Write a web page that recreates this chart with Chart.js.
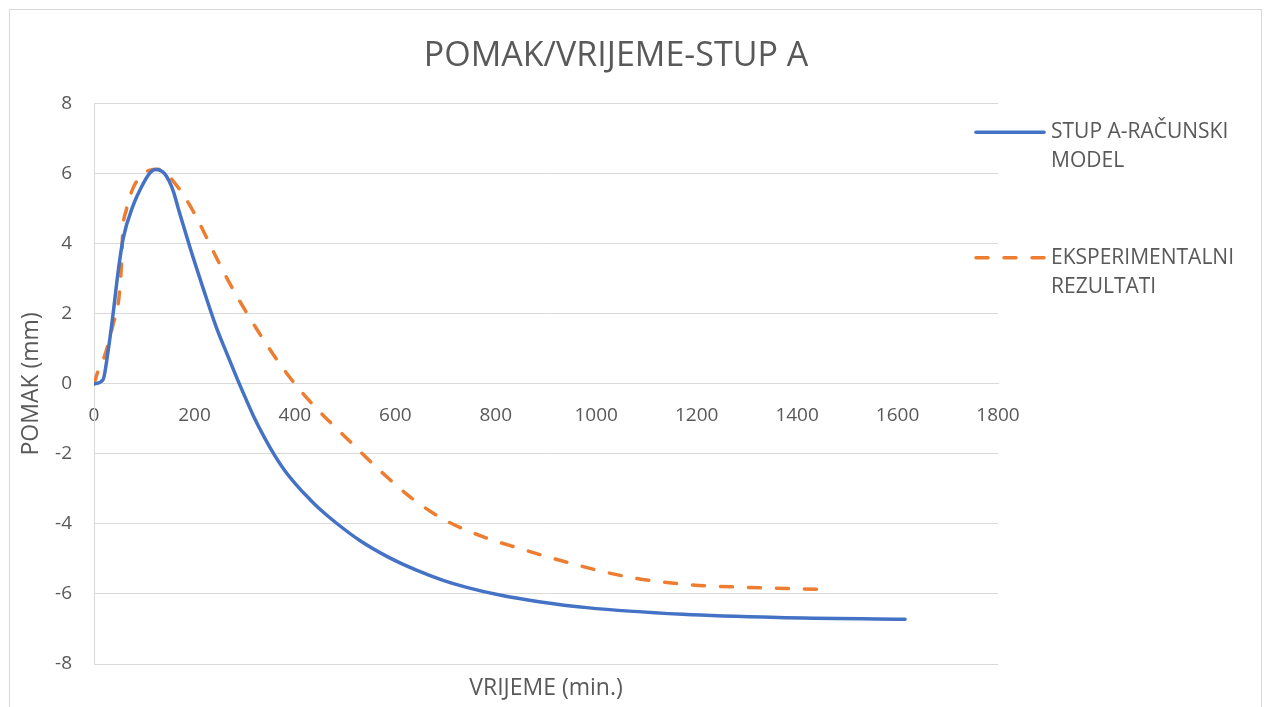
<!DOCTYPE html>
<html>
<head>
<meta charset="utf-8">
<title>POMAK/VRIJEME-STUP A</title>
<script src="https://cdn.jsdelivr.net/npm/chart.js@4.4.1/dist/chart.umd.min.js"></script>
<style>
  html, body { margin: 0; padding: 0; background: #fff; overflow: hidden; }
  .wrap { position: relative; width: 1266px; height: 707px; }
  .frame { position: absolute; left: 9px; top: 9px; width: 1253px; height: 720px; border: 1px solid #d9d9d9; box-sizing: border-box; }
  #chart { position: absolute; left: 0; top: 0; }
</style>
</head>
<body>
<div class="wrap">
  <div class="frame"></div>
  <canvas id="chart" width="1266" height="707"></canvas>
</div>
<script>
//DATA
const chartTitle = 'POMAK/VRIJEME-STUP A';
const xTitle = 'VRIJEME (min.)';
const yTitle = 'POMAK (mm)';
const seriesNames = [['STUP A-RAČUNSKI', 'MODEL'], ['EKSPERIMENTALNI', 'REZULTATI']];

// calculated model (time in min, displacement in mm)
const calcTime = [0, 18, 28, 38, 48, 58, 78, 98, 110, 122, 132, 141, 150, 158, 171, 191, 218, 244, 265, 285, 300, 317, 340, 360, 380, 410, 430, 450, 483, 530, 585, 642, 695, 742, 808, 886, 981, 1172, 1362, 1615];
const calcDisp = [0, 0.12, 0.93, 2.0, 3.2, 4.15, 5.1, 5.72, 6.0, 6.12, 6.1, 6.0, 5.78, 5.5, 4.85, 3.9, 2.7, 1.6, 0.85, 0.15, -0.35, -0.9, -1.55, -2.05, -2.48, -3.0, -3.3, -3.58, -3.98, -4.48, -4.94, -5.32, -5.61, -5.81, -6.03, -6.22, -6.39, -6.58, -6.67, -6.72];

// experimental results
const expTime = [0, 10, 20, 38, 50, 55, 57, 64, 78, 95, 110, 128, 145, 160, 178, 204, 237, 271, 310, 357, 400, 443, 503, 569, 636, 700, 781, 829, 943, 1058, 1172, 1296, 1453];
const expDisp = [0, 0.45, 0.75, 1.7, 2.5, 3.5, 4.3, 4.95, 5.6, 5.95, 6.1, 6.13, 6.0, 5.75, 5.4, 4.76, 3.8, 2.85, 1.89, 0.84, 0.0, -0.7, -1.55, -2.47, -3.3, -3.9, -4.4, -4.62, -5.1, -5.5, -5.72, -5.81, -5.87];

const xMin = 0, xMax = 1800, xStep = 200;
const yMin = -8, yMax = 8, yStep = 2;

const toPoints = (xs, ys) => xs.map((x, i) => ({ x, y: ys[i] }));

const TEXT = '#595959';
const GRID = '#d9d9d9';
const FONT = "'Open Sans', 'Noto Sans', sans-serif";

//LEGEND (multi-line labels, drawn right of the plot)
const sideLegend = {
  id: 'sideLegend',
  afterDraw(chart) {
    const { ctx, chartArea } = chart;
    const x0 = chartArea.right - 23;
    const tops = [chartArea.top + 28.5, chartArea.top + 154];
    ctx.save();
    chart.data.datasets.forEach((ds, i) => {
      const y = tops[i];
      ctx.beginPath();
      ctx.strokeStyle = ds.borderColor;
      ctx.lineWidth = ds.borderWidth;
      ctx.lineCap = 'round';
      ctx.setLineDash(ds.borderDash || []);
      ctx.moveTo(x0 + 1, y);
      ctx.lineTo(x0 + 69, y);
      ctx.stroke();
      ctx.setLineDash([]);
      ctx.fillStyle = TEXT;
      ctx.font = '21px ' + FONT;
      ctx.textBaseline = 'middle';
      ctx.textAlign = 'left';
      ds.label.forEach((line, k) => ctx.fillText(line, x0 + 76, y + k * 29));
    });
    ctx.restore();
  }
};

const chart = new Chart(document.getElementById('chart'), {
  type: 'scatter',
  data: {
    datasets: [
      {
        label: seriesNames[0],
        data: toPoints(calcTime, calcDisp),
        showLine: true,
        borderColor: '#4472C4',
        backgroundColor: '#4472C4',
        borderWidth: 3.5,
        pointRadius: 0,
        cubicInterpolationMode: 'monotone',
        borderCapStyle: 'round'
      },
      {
        label: seriesNames[1],
        data: toPoints(expTime, expDisp),
        showLine: true,
        borderColor: '#ED7D31',
        backgroundColor: '#ED7D31',
        borderWidth: 3.5,
        borderDash: [12, 16],
        borderCapStyle: 'round',
        pointRadius: 0,
        cubicInterpolationMode: 'monotone'
      }
    ]
  },
  options: {
    responsive: false,
    animation: false,
    layout: { padding: { left: 10, right: 44, top: 0, bottom: 0 } },
    plugins: {
      legend: { display: false },
      tooltip: { enabled: false },
      title: {
        display: true,
        text: chartTitle,
        color: TEXT,
        font: { family: FONT, size: 34, weight: 'normal' },
        padding: { top: 36, bottom: 27 }
      }
    },
    scales: {
      x: {
        type: 'linear', min: xMin, max: xMax,
        grid: { display: false },
        border: { display: false },
        ticks: { display: false },
        title: { display: true, text: xTitle, color: TEXT, font: { family: FONT, size: 23 }, padding: { top: 0, bottom: 5 } },
        afterFit: s => { s.height = 43; }
      },
      xZero: {
        type: 'linear', axis: 'x', min: xMin, max: xMax,
        position: { y: 0 },
        grid: { display: false, drawTicks: false },
        border: { display: true, color: GRID, width: 1 },
        ticks: { stepSize: xStep, color: TEXT, font: { family: FONT, size: 19 }, padding: 20, maxRotation: 0, autoSkip: false, callback: v => String(v) }
      },
      y: {
        type: 'linear', min: yMin, max: yMax,
        position: 'left',
        grid: { color: GRID, lineWidth: 1, drawTicks: false },
        border: { display: true, color: GRID, width: 1 },
        ticks: { stepSize: yStep, color: TEXT, font: { family: FONT, size: 19 }, padding: 22, callback: v => String(v) },
        title: { display: true, text: yTitle, color: TEXT, font: { family: FONT, size: 23 }, padding: { top: 8, bottom: 0 } },
        afterFit: s => { s.width = 84; }
      },
      ySpace: {
        type: 'linear', axis: 'y', min: yMin, max: yMax,
        position: 'right',
        grid: { display: false },
        border: { display: false },
        ticks: { display: false },
        afterFit: s => { s.width = 224; }
      }
    }
  },
  plugins: [sideLegend]
});
</script>
</body>
</html>
